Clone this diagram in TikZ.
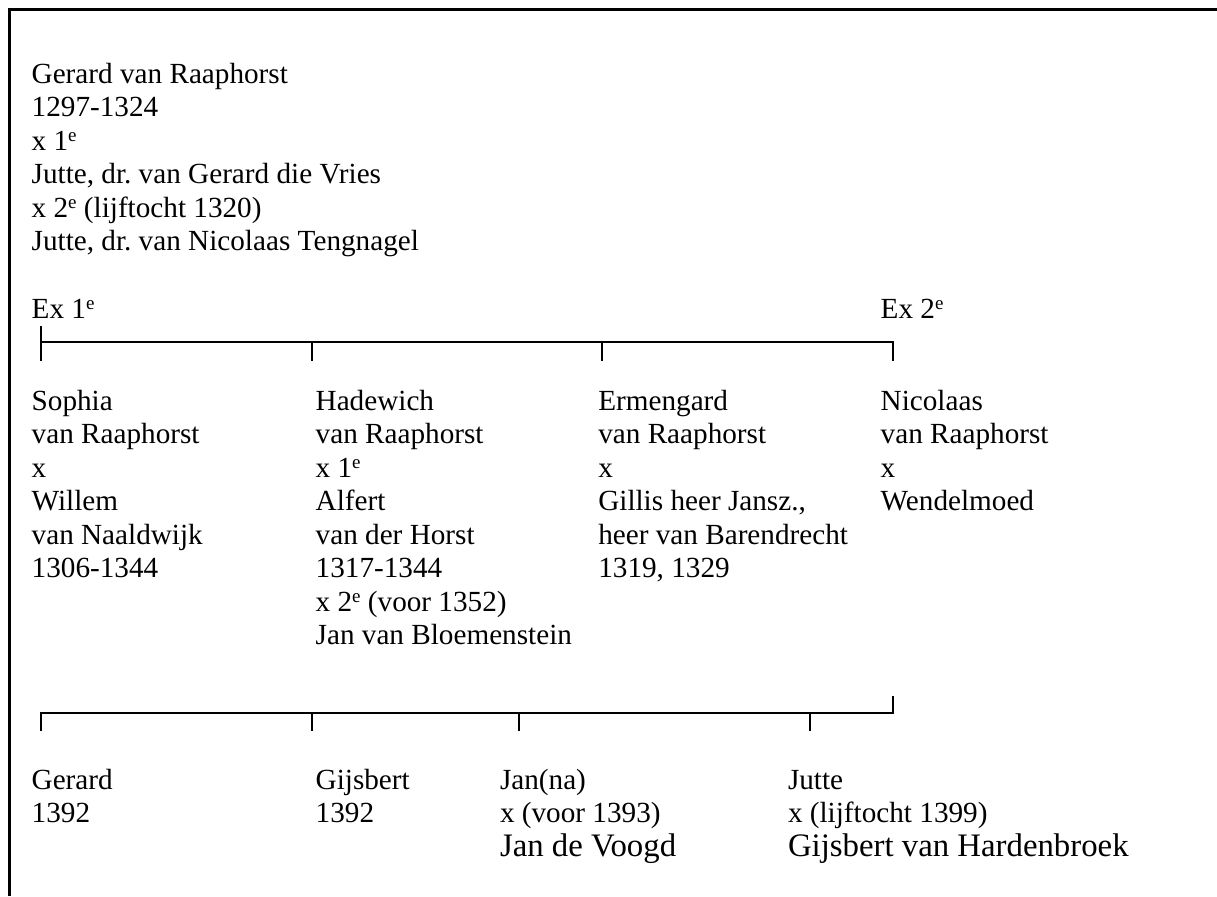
\documentclass[tikz,border=0pt]{standalone}
\usepackage{fontspec}
\setmainfont{Liberation Serif}
\frenchspacing
\newcommand\ordsup[1]{\raisebox{0.3em}{\fontsize{9.5pt}{9.5pt}\selectfont #1}}
\newcommand\stackl[1]{\begin{tabular}[t]{@{}l@{}}#1\end{tabular}}
\newcommand\bigname[1]{{\fontsize{16.4pt}{16.75pt}\selectfont #1}}
\tikzset{
  txt/.style={anchor=base west, inner sep=0pt, outer sep=0pt, font=\fontsize{14.6pt}{16.75pt}\selectfont\frenchspacing},
  frameline/.style={line width=1.5pt},
  link/.style={line width=1pt},
}
\begin{document}
\begin{tikzpicture}[x=0.5pt,y=-0.5pt]
\useasboundingbox (0,0) rectangle (1217,896);
\draw[frameline] (9.5,896) -- (9.5,9.5) -- (1217,9.5);

% top text
\node[txt] (gerard) at (31.7,83) {\stackl{Gerard van Raaphorst\\1297-1324\\x 1\ordsup{e}\\Jutte, dr. van Gerard die Vries\\x 2\ordsup{e} (lijftocht 1320)\\Jutte, dr. van Nicolaas Tengnagel}};
\node[txt] (ex1) at (31.7,318.3) {Ex 1\ordsup{e}};
\node[txt] (ex2) at (880.7,318.3) {Ex 2\ordsup{e}};

% children
\node[txt] (sophia) at (31.7,410) {\stackl{Sophia\\van Raaphorst\\x\\Willem\\van Naaldwijk\\1306-1344}};
\node[txt] (hadewich) at (315.7,410) {\stackl{Hadewich\\van Raaphorst\\x 1\ordsup{e}\\Alfert\\van der Horst\\1317-1344\\x 2\ordsup{e} (voor 1352)\\Jan van Bloemenstein}};
\node[txt] (ermengard) at (598.3,410) {\stackl{Ermengard\\van Raaphorst\\x\\Gillis heer Jansz.,\\heer van Barendrecht\\1319, 1329}};
\node[txt] (nicolaas) at (880.7,410) {\stackl{Nicolaas\\van Raaphorst\\x\\Wendelmoed}};

% grandchildren
\node[txt] (gerardb) at (31.7,789) {\stackl{Gerard\\1392}};
\node[txt] (gijsbert) at (315.7,789) {\stackl{Gijsbert\\1392}};
\node[txt] (janna) at (500,789) {\stackl{Jan(na)\\x (voor 1393)\\\bigname{Jan de Voogd}}};
\node[txt] (jutte) at (788,789) {\stackl{Jutte\\x (lijftocht 1399)\\\bigname{Gijsbert van Hardenbroek}}};

% top bracket
\coordinate (ta) at (41,326);
\coordinate (tl) at (41,342.3);
\coordinate (tlb) at (41,361);
\coordinate (th) at (311.7,342.3);
\coordinate (thb) at (311.7,361);
\coordinate (te) at (602.3,342.3);
\coordinate (teb) at (602.3,361);
\coordinate (tn) at (893.3,342.3);
\coordinate (tnb) at (893.3,361);
\draw[link] (ta) -- (tlb);
\draw[link] (tl) -- (tn) -- (tnb);
\draw[link] (th) -- (thb);
\draw[link] (te) -- (teb);

% bottom bracket
\coordinate (bu) at (893.3,696);
\coordinate (br) at (893.3,713.3);
\coordinate (bl) at (41,713.3);
\coordinate (blb) at (41,731);
\coordinate (bg) at (311.7,713.3);
\coordinate (bgb) at (311.7,731);
\coordinate (bj) at (519,713.3);
\coordinate (bjb) at (519,731);
\coordinate (bt) at (810.3,713.3);
\coordinate (btb) at (810.3,731);
\draw[link] (bu) -- (br) -- (bl) -- (blb);
\draw[link] (bg) -- (bgb);
\draw[link] (bj) -- (bjb);
\draw[link] (bt) -- (btb);
\end{tikzpicture}
\end{document}
